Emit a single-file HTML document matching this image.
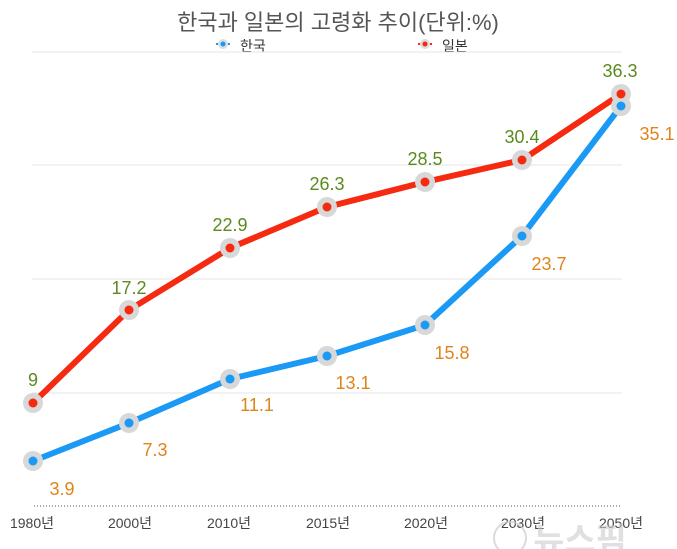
<!DOCTYPE html><html><head><meta charset="utf-8"><style>body{margin:0;background:#fff}svg{display:block}text{font-family:"Liberation Sans","Noto Sans CJK KR",sans-serif}</style></head><body>
<svg width="677" height="549" viewBox="0 0 677 549">
<text x="338" y="30" text-anchor="middle" font-size="22" fill="#555">한국과 일본의 고령화 추이(단위:%)</text>
<line x1="216" y1="44" x2="231" y2="44" stroke="#1a9af5" stroke-width="2" stroke-dasharray="2,2"/><circle cx="223" cy="44" r="5" fill="#ddd"/><circle cx="223" cy="44" r="2.5" fill="#1a9af5"/>
<text x="240" y="51" font-size="14" fill="#333">한국</text>
<line x1="418" y1="44" x2="433" y2="44" stroke="#f52a10" stroke-width="2" stroke-dasharray="2,2"/><circle cx="425" cy="44" r="5" fill="#ddd"/><circle cx="425" cy="44" r="2.5" fill="#f52a10"/>
<text x="442" y="51" font-size="14" fill="#333">일본</text>
<g stroke="#e4e4e4" stroke-width="1"><line x1="32" y1="52" x2="622" y2="52"/><line x1="32" y1="165" x2="622" y2="165"/><line x1="32" y1="279" x2="622" y2="279"/><line x1="32" y1="393" x2="622" y2="393"/></g>
<line x1="34" y1="506" x2="622" y2="506" stroke="#555" stroke-width="1" stroke-dasharray="1,2"/>
<polyline points="33,461 129,423 230,379 327,356 425,325 522,236 621,106" fill="none" stroke="#1a9af5" stroke-width="6" stroke-linejoin="round"/>
<polyline points="33,403 129,310 230,248 327,207 425,182 522,160 621,94" fill="none" stroke="#f52a10" stroke-width="6" stroke-linejoin="round"/>
<g fill="#d8d8d8"><circle cx="33" cy="461" r="10"/><circle cx="129" cy="423" r="10"/><circle cx="230" cy="379" r="10"/><circle cx="327" cy="356" r="10"/><circle cx="425" cy="325" r="10"/><circle cx="522" cy="236" r="10"/><circle cx="621" cy="106" r="10"/>
<circle cx="33" cy="403" r="10"/><circle cx="129" cy="310" r="10"/><circle cx="230" cy="248" r="10"/><circle cx="327" cy="207" r="10"/><circle cx="425" cy="182" r="10"/><circle cx="522" cy="160" r="10"/><circle cx="621" cy="94" r="10"/></g>
<g fill="#1a9af5"><circle cx="33" cy="461" r="4.5"/><circle cx="129" cy="423" r="4.5"/><circle cx="230" cy="379" r="4.5"/><circle cx="327" cy="356" r="4.5"/><circle cx="425" cy="325" r="4.5"/><circle cx="522" cy="236" r="4.5"/><circle cx="621" cy="106" r="4.5"/></g>
<g fill="#f52a10"><circle cx="33" cy="403" r="4.5"/><circle cx="129" cy="310" r="4.5"/><circle cx="230" cy="248" r="4.5"/><circle cx="327" cy="207" r="4.5"/><circle cx="425" cy="182" r="4.5"/><circle cx="522" cy="160" r="4.5"/><circle cx="621" cy="94" r="4.5"/></g>
<g font-size="18" fill="#5a8a1e" text-anchor="middle"><text x="33" y="386">9</text><text x="129" y="294">17.2</text><text x="230" y="231">22.9</text><text x="327" y="190">26.3</text><text x="425" y="165">28.5</text><text x="522" y="143">30.4</text><text x="620" y="77">36.3</text></g>
<g font-size="18" fill="#e0841a" text-anchor="middle"><text x="62" y="495">3.9</text><text x="155" y="456">7.3</text><text x="257" y="411">11.1</text><text x="353" y="389">13.1</text><text x="452" y="359">15.8</text><text x="549" y="270">23.7</text><text x="657" y="140">35.1</text></g>
<g font-size="14" fill="#444" text-anchor="middle"><text x="32" y="528">1980년</text><text x="130" y="528">2000년</text><text x="229" y="528">2010년</text><text x="328" y="528">2015년</text><text x="426" y="528">2020년</text><text x="523" y="528">2030년</text><text x="621" y="528">2050년</text></g>
<circle cx="510" cy="538" r="16" fill="none" stroke="#ccc" stroke-width="2" opacity="0.7"/>
<text x="580" y="552" font-size="34" fill="#ccc" opacity="0.6" text-anchor="middle" font-weight="bold">뉴스핌</text>
</svg></body></html>
